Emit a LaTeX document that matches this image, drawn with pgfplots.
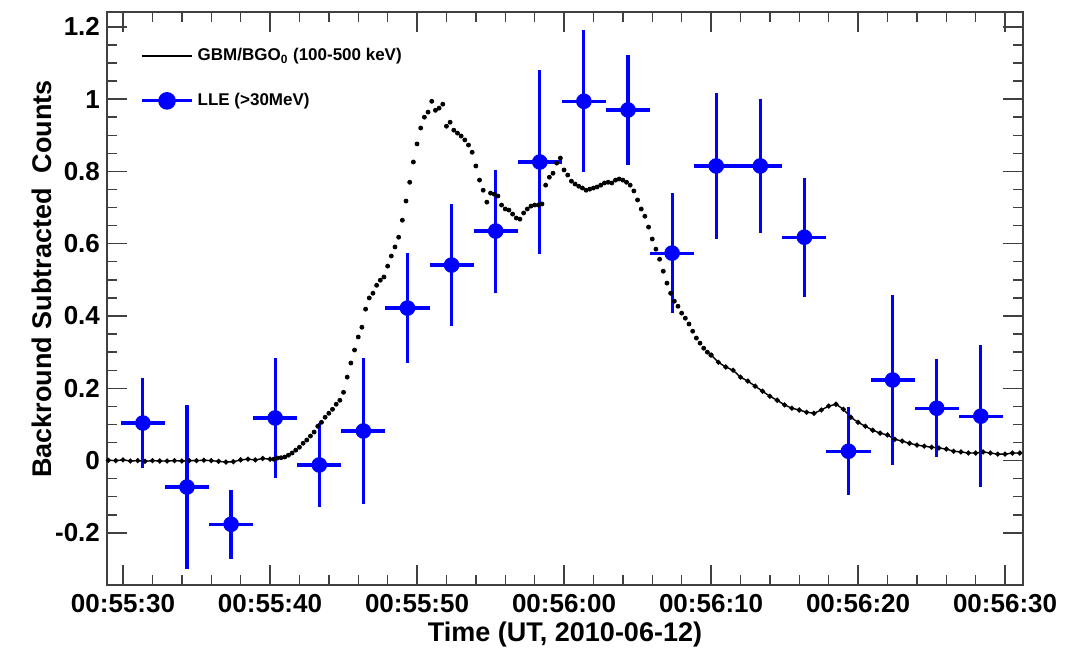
\documentclass[border=0pt]{standalone}
\usepackage{pgfplots}
\pgfplotsset{compat=1.18}
\usepackage{pgfplotstable}
\usepackage{fontspec}
\setmainfont{Liberation Sans}

\pgfplotstableread{
x y ex ey
31.35 0.104 1.5 0.125
34.35 -0.073 1.5 0.228
37.35 -0.176 1.5 0.096
40.35 0.118 1.5 0.166
43.35 -0.012 1.5 0.115
46.35 0.082 1.5 0.202
49.35 0.422 1.5 0.153
52.35 0.541 1.5 0.169
55.35 0.635 1.5 0.170
58.35 0.826 1.5 0.255
61.35 0.994 1.5 0.197
64.35 0.970 1.5 0.151
67.35 0.574 1.5 0.166
70.35 0.815 1.5 0.203
73.35 0.815 1.5 0.186
76.35 0.618 1.5 0.165
79.35 0.026 1.5 0.122
82.35 0.223 1.5 0.236
85.35 0.145 1.5 0.135
88.35 0.123 1.5 0.196
}\lle

\pgfplotstableread{
t y
29.0 0.001
29.5 0.000
30.0 0.002
30.5 -0.001
31.0 0.000
31.5 -0.002
32.0 0.000
32.5 -0.001
33.0 -0.001
33.5 0.000
34.0 -0.001
34.5 0.000
35.0 0.000
35.5 0.001
36.0 0.000
36.5 -0.002
37.0 -0.004
37.5 -0.003
38.0 0.002
38.5 0.004
39.0 0.002
39.5 0.006
40.0 0.004
}\gbmA

\pgfplotstableread{
t y
40.25 0.004
40.5 0.007
40.75 0.008
41.0 0.010
41.25 0.015
41.5 0.021
41.75 0.029
42.0 0.037
42.25 0.048
42.5 0.057
42.75 0.068
43.0 0.079
43.25 0.095
43.5 0.106
43.75 0.120
44.0 0.131
44.25 0.142
44.5 0.156
44.75 0.167
45.0 0.189
45.25 0.231
45.5 0.270
45.75 0.306
46.0 0.342
46.25 0.369
46.5 0.419
46.75 0.450
47.0 0.463
47.25 0.485
47.5 0.499
47.75 0.508
48.0 0.538
48.25 0.566
48.5 0.591
48.75 0.618
49.0 0.665
49.25 0.718
49.5 0.770
49.75 0.826
50.0 0.876
50.25 0.920
50.5 0.950
50.75 0.964
51.0 0.994
51.25 0.969
51.5 0.975
51.75 0.986
52.0 0.925
52.25 0.936
52.5 0.914
52.75 0.906
53.0 0.898
53.25 0.887
53.5 0.873
53.75 0.853
54.0 0.815
54.25 0.776
54.5 0.748
54.75 0.715
55.0 0.740
55.25 0.737
55.5 0.732
55.75 0.707
56.0 0.696
56.25 0.693
56.5 0.682
56.75 0.671
57.0 0.668
57.25 0.685
57.5 0.696
57.75 0.704
58.0 0.707
58.25 0.707
58.5 0.710
58.75 0.762
59.0 0.784
59.25 0.795
59.5 0.823
59.75 0.837
60.0 0.804
60.25 0.790
60.5 0.773
60.75 0.765
61.0 0.759
61.25 0.754
61.5 0.748
61.75 0.751
62.0 0.754
62.25 0.757
62.5 0.762
62.75 0.768
63.0 0.770
63.25 0.768
63.5 0.776
63.75 0.779
64.0 0.776
64.25 0.770
64.5 0.762
64.75 0.746
65.0 0.721
65.25 0.696
65.5 0.676
65.75 0.646
66.0 0.613
66.25 0.585
66.5 0.557
66.75 0.524
67.0 0.491
67.25 0.463
67.5 0.441
67.75 0.427
68.0 0.408
68.25 0.394
68.5 0.378
68.75 0.358
69.0 0.339
69.25 0.325
69.5 0.311
69.75 0.300
70.0 0.292
}\gbmB

\pgfplotstableread{
t y
70.0 0.292
70.5 0.272
71.0 0.259
71.5 0.250
72.0 0.231
72.5 0.220
73.0 0.206
73.5 0.192
74.0 0.178
74.5 0.167
75.0 0.154
75.5 0.145
76.0 0.140
76.5 0.134
77.0 0.131
77.5 0.140
78.0 0.151
78.5 0.156
79.0 0.142
79.5 0.120
80.0 0.106
80.5 0.095
81.0 0.084
81.5 0.076
82.0 0.071
82.5 0.059
83.0 0.054
83.5 0.048
84.0 0.043
84.5 0.040
85.0 0.037
85.5 0.035
86.0 0.032
86.5 0.026
87.0 0.024
87.5 0.021
88.0 0.021
88.5 0.024
89.0 0.021
89.5 0.018
90.0 0.018
90.5 0.021
91.0 0.021
}\gbmC

\begin{document}
\begin{tikzpicture}
\begin{axis}[
  scale only axis,
  width=458pt, height=286.5pt,
  xmin=28.91, xmax=91.22,
  ymin=-0.344, ymax=1.241,
  xtick={30,40,50,60,70,80,90},
  xticklabels={00:55:30,00:55:40,00:55:50,00:56:00,00:56:10,00:56:20,00:56:30},
  minor x tick num=4,
  ytick={-0.2,0,0.2,0.4,0.6,0.8,1,1.2},
  yticklabels={-0.2,0,0.2,0.4,0.6,0.8,1,1.2},
  minor y tick num=3,
  tick align=inside,
  major tick length=10pt,
  minor tick length=5pt,
  axis line style={black!75, line width=0.9pt},
  tick style={black!75, line width=0.7pt},
  tick label style={font=\fontsize{13}{15}\selectfont\bfseries},
  xticklabel style={yshift=-1pt},
  label style={font=\fontsize{13.5}{16}\selectfont\bfseries},
  xlabel={Time (UT, 2010-06-12)},
  xlabel style={yshift=2pt},
  ylabel={Backround Subtracted\ \ Counts},
  ylabel style={at={(axis description cs:-0.071,0.534)}, anchor=center},
  legend style={draw=none, fill=none, at={(axis description cs:0.036,0.945)}, anchor=north west,
    font=\fontsize{8.5}{10}\selectfont\bfseries, row sep=11pt, inner sep=0pt,
    nodes={inner sep=2pt}},
  legend cell align=left,
  legend image code/.code={
    \draw[mark repeat=2,mark phase=2,#1] plot coordinates {(0cm,0cm) (0.44cm,0cm) (0.88cm,0cm)};
  },
]
\addlegendimage{black, line width=1pt}
\addlegendentry{GBM/BGO$_{\mathbf{0}}$ (100-500 keV)}
\addlegendimage{blue, line width=1.6pt, mark=*, mark size=3.6pt, mark options={solid}}
\addlegendentry{LLE (>30MeV)}

\addplot[forget plot, black, line width=0.7pt, mark=*, mark size=0.9pt] table[x=t,y=y] {\gbmA};
\addplot[forget plot, black, only marks, mark=*, mark size=1pt] table[x=t,y=y] {\gbmB};
\addplot[forget plot, black, line width=0.7pt, mark=*, mark size=0.9pt] table[x=t,y=y] {\gbmC};

\addplot[forget plot, blue, only marks, mark=*, mark size=3.7pt,
  error bars/.cd, x dir=both, x explicit, y dir=both, y explicit,
  error mark=none, error bar style={blue, line width=1.6pt}]
  table[x=x, y=y, x error=ex, y error=ey] {\lle};
\end{axis}
\path ([xshift=-53.5pt,yshift=-32pt]current axis.south west) rectangle ([xshift=27.5pt,yshift=6pt]current axis.north east);
\end{tikzpicture}
\end{document}
